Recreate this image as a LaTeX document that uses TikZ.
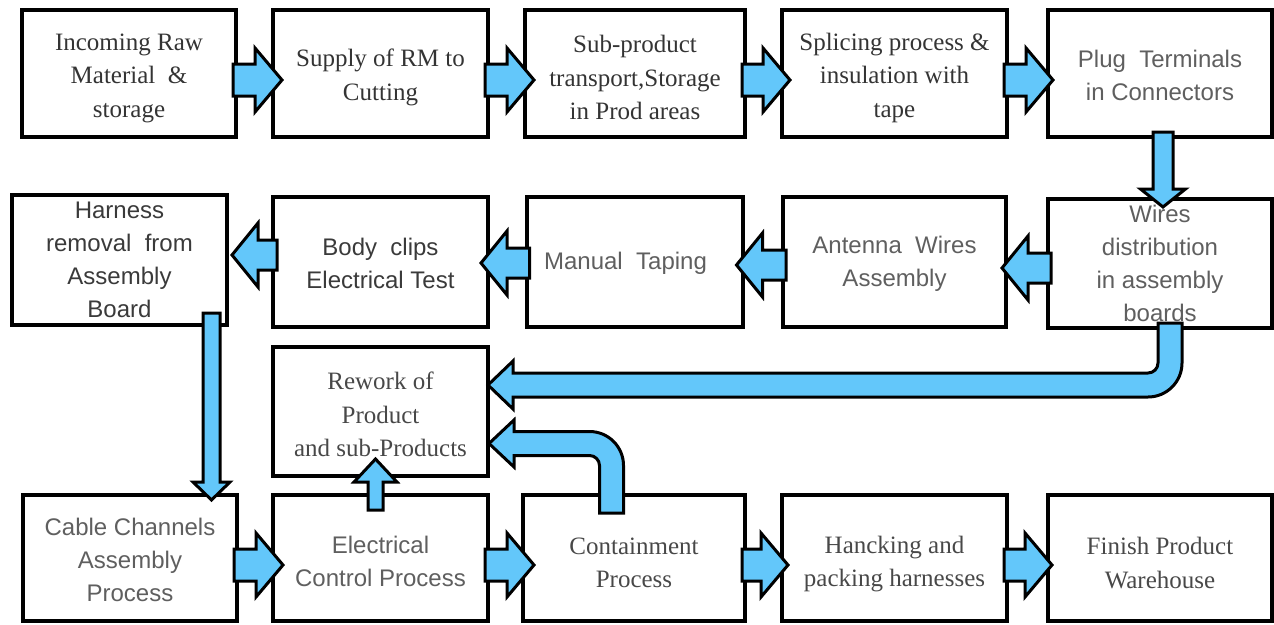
\documentclass[tikz,border=0pt]{standalone}
\usepackage{fontspec}
\setmainfont{Liberation Serif}
\setsansfont{Liberation Sans}
\usetikzlibrary{calc}
\definecolor{arrowblue}{RGB}{99,199,250}
\definecolor{serifgray}{RGB}{52,52,52}
\definecolor{seriflight}{RGB}{72,72,72}
\definecolor{sansgray}{RGB}{95,95,95}
\definecolor{sansdark}{RGB}{58,58,58}
\pgfdeclarelayer{bg}
\pgfdeclarelayer{mid}
\pgfsetlayers{bg,mid,main}
\tikzset{
  boxnode/.style={draw=black, line width=4pt, inner sep=0pt, outer sep=0pt},
  rmtext/.style={inner sep=0pt, align=center, font=\fontsize{25}{33.5}\selectfont\rmfamily, text=serifgray},
  rmlight/.style={rmtext, text=seriflight},
  sftext/.style={inner sep=0pt, align=center, font=\fontsize{24}{33}\selectfont\sffamily, text=sansgray},
  sfdark/.style={sftext, text=sansdark},
  barrow/.style={draw=black, fill=arrowblue, line width=3pt, line join=miter}
}
% horizontal block arrow: start anchor, end anchor, y shift, start x shift, tip x shift, half shaft, half head, head length (signed)
\newcommand\HA[8]{%
 \draw[barrow] let \p1=(#1), \p2=(#2) in
 ({\x1+(#4pt)},{\y1+(#3pt)-#6pt}) -- ({\x2+(#5pt)-(#8pt)},{\y1+(#3pt)-#6pt}) --
 ({\x2+(#5pt)-(#8pt)},{\y1+(#3pt)-#7pt}) -- ({\x2+(#5pt)},{\y1+(#3pt)}) --
 ({\x2+(#5pt)-(#8pt)},{\y1+(#3pt)+#7pt}) -- ({\x2+(#5pt)-(#8pt)},{\y1+(#3pt)+#6pt}) --
 ({\x1+(#4pt)},{\y1+(#3pt)+#6pt}) -- cycle;}
% vertical block arrow: start anchor, end anchor, x shift, start y shift, tip y shift, half shaft, half head, head length (signed)
\newcommand\VA[8]{%
 \draw[barrow] let \p1=(#1), \p2=(#2) in
 ({\x1+(#3pt)-#6pt},{\y1+(#4pt)}) -- ({\x1+(#3pt)-#6pt},{\y2+(#5pt)+(#8pt)}) --
 ({\x1+(#3pt)-#7pt},{\y2+(#5pt)+(#8pt)}) -- ({\x1+(#3pt)},{\y2+(#5pt)}) --
 ({\x1+(#3pt)+#7pt},{\y2+(#5pt)+(#8pt)}) -- ({\x1+(#3pt)+#6pt},{\y2+(#5pt)+(#8pt)}) --
 ({\x1+(#3pt)+#6pt},{\y1+(#4pt)}) -- cycle;}
\begin{document}
\begin{tikzpicture}[x=1pt, y=-1pt]
\useasboundingbox (0,0) rectangle (1274,624);
\begin{pgfonlayer}{bg}
% row 1
\node[boxnode, minimum width=214pt, minimum height=127pt] (b1) at (129,73.5) {};
\node[boxnode, minimum width=215pt, minimum height=127pt] (b2) at (380.5,73.5) {};
\node[boxnode, minimum width=220pt, minimum height=127pt] (b3) at (635,73.5) {};
\node[boxnode, minimum width=225pt, minimum height=127pt] (b4) at (894.5,73.5) {};
\node[boxnode, minimum width=224pt, minimum height=127pt] (b5) at (1160,73.5) {};
% row 2
\node[boxnode, minimum width=215pt, minimum height=130pt] (h) at (119.5,260) {};
\node[boxnode, minimum width=215pt, minimum height=130pt] (bc) at (380.5,262) {};
\node[boxnode, minimum width=216pt, minimum height=130pt] (mt) at (634.5,262) {};
\node[boxnode, minimum width=223pt, minimum height=130pt] (aw) at (894.5,262) {};
\node[boxnode, minimum width=224pt, minimum height=129pt] (wd) at (1160,263.5) {};
% row 3
\node[boxnode, minimum width=215pt, minimum height=129pt] (rw) at (380.5,411.5) {};
% row 4
\node[boxnode, minimum width=214pt, minimum height=126pt] (cc) at (130,558) {};
\node[boxnode, minimum width=215pt, minimum height=126pt] (ec) at (380.5,558) {};
\node[boxnode, minimum width=222pt, minimum height=126pt] (ct) at (634,558) {};
\node[boxnode, minimum width=225pt, minimum height=126pt] (hp) at (894.5,558) {};
\node[boxnode, minimum width=224pt, minimum height=126pt] (fp) at (1160,558) {};
\end{pgfonlayer}

% texts
\node[rmtext] (tb1) at ([yshift=-4.5pt]b1.center) {Incoming Raw\\Material\ \ \&\\storage};
\node[rmtext] (tb2) at ([yshift=-4pt]b2.center) {Supply of RM to\\Cutting};
\node[rmtext] (tb3) at ([yshift=-4pt]b3.center) {Sub-product\\transport,Storage\\in Prod areas};
\node[rmtext] (tb4) at ([yshift=-4pt]b4.center) {Splicing process \&\\insulation with\\tape};
\node[sftext] (tb5) at ([yshift=-1.5pt]b5.center) {Plug\ \ Terminals\\in Connectors};
\node[sfdark] (th) at ([yshift=0pt]h.center) {Harness\\removal\ \ from\\Assembly\\Board};
\node[sfdark] (tbc) at ([yshift=-1pt]bc.center) {Body\ \ clips\\Electrical Test};
\node[sftext] (tmt) at ([xshift=-9pt,yshift=-1pt]mt.center) {Manual\ \ Taping};
\node[sftext] (taw) at ([yshift=-1.5pt]aw.center) {Antenna\ \ Wires\\Assembly};
\node[sftext] (twd) at ([yshift=0pt]wd.center) {Wires\\distribution\\in assembly\\boards};
\node[rmlight] (trw) at ([yshift=-3pt]rw.center) {Rework of\\Product\\and sub-Products};
\node[sftext] (tcc) at ([yshift=-1.5pt]cc.center) {Cable Channels\\Assembly\\Process};
\node[sftext] (tec) at ([yshift=-3pt]ec.center) {Electrical\\Control Process};
\node[rmlight] (tct) at ([yshift=-5pt]ct.center) {Containment\\Process};
\node[rmlight] (thp) at ([yshift=-6pt]hp.center) {Hancking and\\packing harnesses};
\node[rmlight] (tfp) at ([yshift=-5pt]fp.center) {Finish Product\\Warehouse};

\begin{pgfonlayer}{mid}
% row 1
\HA{b1.east}{b2.west}{-6.5}{-3}{9}{16}{32}{27}
\HA{b2.east}{b3.west}{-6.5}{-3}{9}{16}{32}{27}
\HA{b3.east}{b4.west}{-6.5}{-3}{8}{16}{32}{27}
\HA{b4.east}{b5.west}{-6.5}{-3}{5}{16}{32}{27}
% down to row 2
\VA{b5.south}{wd.north}{3}{5}{-8}{10}{22.5}{18}
% row 2 (leftwards)
\HA{wd.west}{aw.east}{-4.5}{3}{-4}{15}{32}{-26}
\HA{aw.west}{mt.east}{-3}{3}{-6}{15}{32}{-26}
\HA{mt.west}{bc.east}{-1}{3}{-7}{15}{32}{-26}
\HA{bc.west}{h.east}{7}{4}{5}{15}{32}{-26}
% down to row 4
\VA{h.south east}{cc.north}{-15.5}{12}{-5}{8.5}{18.5}{18}
% row 4
\HA{cc.east}{ec.west}{-7}{-3}{10}{16}{32}{27}
\HA{ec.east}{ct.west}{-7}{-3}{11}{16}{32}{27}
\HA{ct.east}{hp.west}{-7}{-3}{6}{16}{32}{27}
\HA{hp.east}{fp.west}{-7}{-3}{4}{16}{32}{27}
% up to rework
\VA{ec.north}{rw.south}{-5}{-15}{17}{7.5}{21.5}{-23}
% bent arrow from wires distribution to rework
\draw[barrow] let \p1=(wd.south), \p2=(rw.east), \p3=({\x1+10pt},{\y2+26.5pt}) in
 ({\x3-12pt},{\y1+5pt}) -- ({\x3+12pt},{\y1+5pt}) -- ({\x3+12pt},{\y3-12pt+34pt})
 .. controls ({\x3+12pt},{\y3-12pt+15.2pt}) and ({\x3+12pt-15.2pt},{\y3-12pt}) .. ({\x3+12pt-34pt},{\y3-12pt})
 -- ({\x2+25pt},{\y3-12pt}) -- ({\x2+25pt},{\y3-24pt}) -- ({\x2},{\y3}) -- ({\x2+25pt},{\y3+24pt}) -- ({\x2+25pt},{\y3+12pt})
 -- ({\x3-12pt-10pt},{\y3+12pt})
 .. controls ({\x3-12pt-4.5pt},{\y3+12pt}) and ({\x3-12pt},{\y3+12pt+4.5pt}) .. ({\x3-12pt},{\y3+12pt+10pt})
 -- cycle;
% bent arrow from containment to rework
\draw[barrow] let \p1=(ct.north), \p2=(rw.east), \p3=({\x1-22.5pt},{\y2-32pt}) in
 ({\x3-12pt},{\y1-18pt}) -- ({\x3+12pt},{\y1-18pt}) -- ({\x3+12pt},{\y3+12pt-34pt})
 .. controls ({\x3+12pt},{\y3+12pt-15.2pt}) and ({\x3+12pt-15.2pt},{\y3+12pt}) .. ({\x3+12pt-34pt},{\y3+12pt})
 -- ({\x2+26pt},{\y3+12pt}) -- ({\x2+26pt},{\y3+23.5pt}) -- ({\x2+1pt},{\y3}) -- ({\x2+26pt},{\y3-23.5pt}) -- ({\x2+26pt},{\y3-12pt})
 -- ({\x3-12pt-10pt},{\y3-12pt})
 .. controls ({\x3-12pt-4.5pt},{\y3-12pt}) and ({\x3-12pt},{\y3-12pt-4.5pt}) .. ({\x3-12pt},{\y3-12pt-10pt})
 -- cycle;
\end{pgfonlayer}
\end{tikzpicture}
\end{document}
